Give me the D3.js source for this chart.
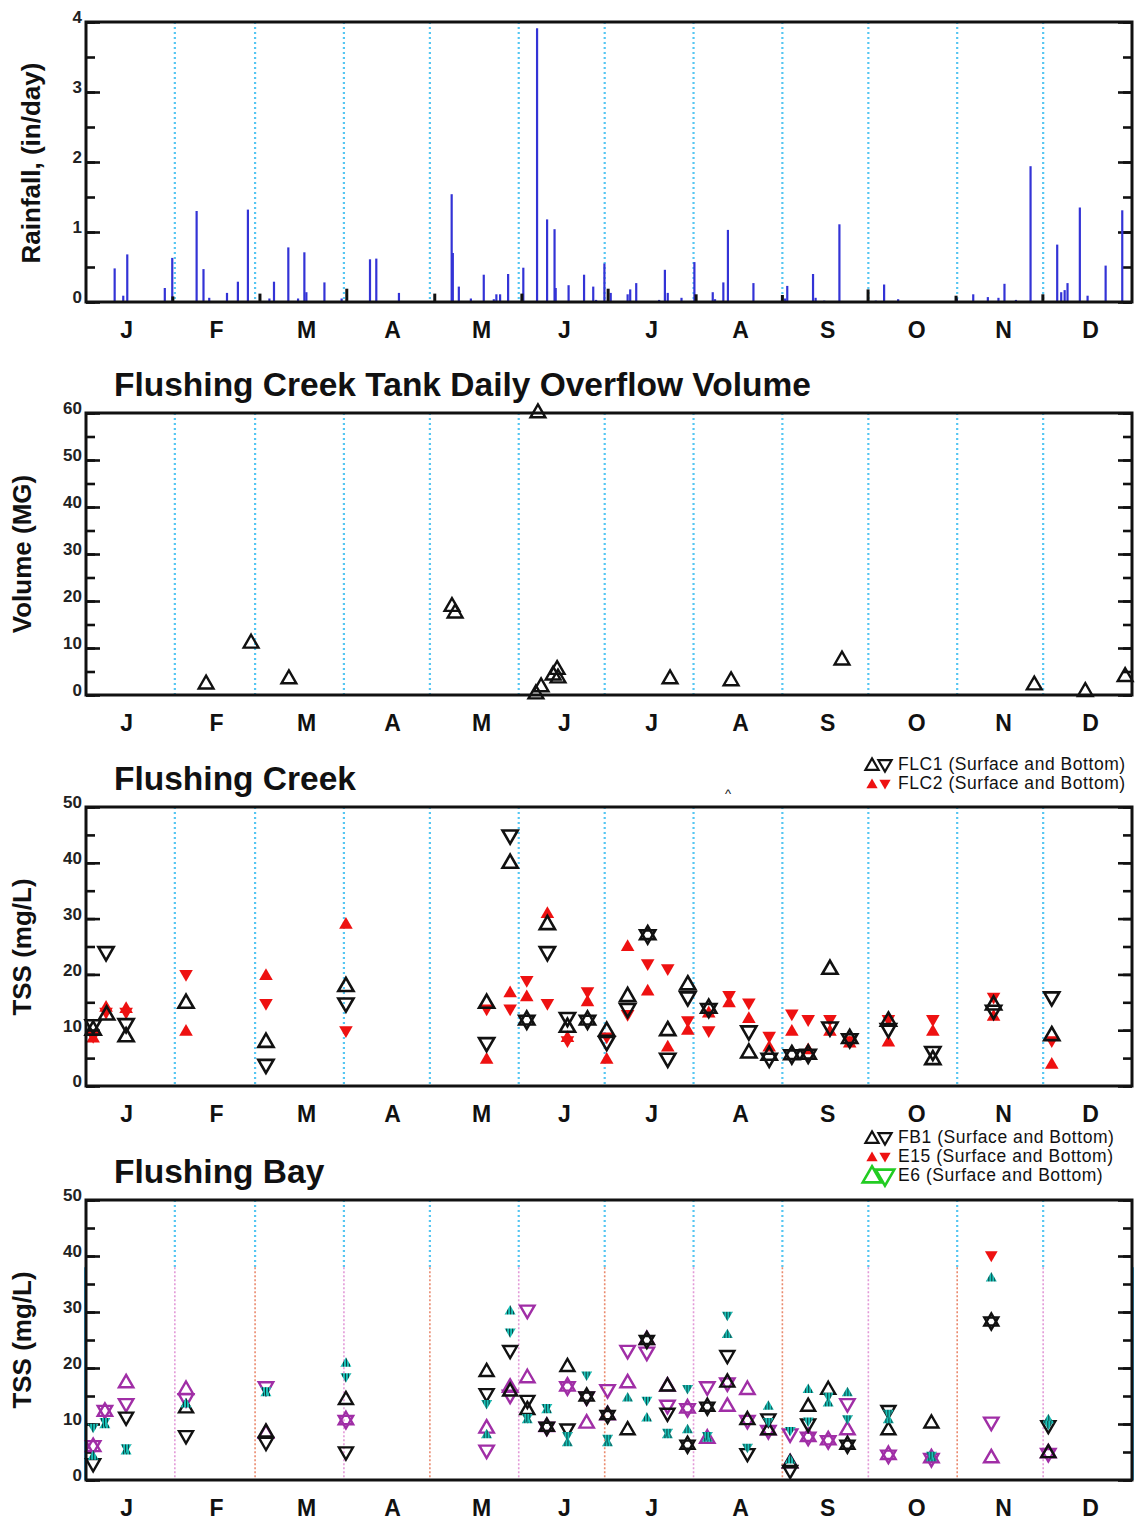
<!DOCTYPE html>
<html>
<head>
<meta charset="utf-8">
<script src="https://cdn.jsdelivr.net/npm/d3@7"></script>
<style>
  body { margin: 0; background: #fff; }
  svg { display: block; font-family: "Liberation Sans", Arial, Helvetica, sans-serif; }
</style>
</head>
<body>
<svg id="chart" width="1143" height="1524"></svg>
<script>
// ---- Calendar (day-of-year, 0..365) ----
const monthLabels = ["J","F","M","A","M","J","J","A","S","O","N","D"];
const monthStarts = [0, 31, 59, 90, 120, 151, 181, 212, 243, 273, 304, 334, 365];
const monthLabelDays = [14, 45.4, 76.8, 106.8, 137.9, 166.8, 197.2, 228.2, 258.6, 289.7, 320, 350.4];

// ---- Daily rainfall (in/day): [day, value] ----
const rainfall = [
  [10.0,0.48],[13.0,0.09],[14.4,0.68],[27.5,0.20],[30.1,0.63],[38.6,1.30],[41.0,0.47],[43.0,0.06],
  [49.2,0.13],[53.0,0.29],[56.5,1.32],[64.0,0.05],[65.6,0.29],[70.6,0.78],[74.0,0.05],[76.2,0.71],
  [76.9,0.14],[83.2,0.28],[89.2,0.05],[99.1,0.61],[101.3,0.62],[109.2,0.13],[127.6,1.54],[128.0,0.70],
  [130.1,0.22],[134.3,0.05],[138.8,0.39],[142.3,0.04],[143.2,0.11],[144.5,0.11],[147.3,0.40],[152.6,0.49],
  [157.4,3.91],[160.9,1.18],[163.5,1.04],[163.9,0.20],[168.4,0.24],[173.8,0.39],[177.0,0.22],[178.0,0.03],
  [180.9,0.55],[183.1,0.13],[189.0,0.11],[189.9,0.18],[192.0,0.27],[200.0,0.03],[202.0,0.46],[203.0,0.13],
  [207.8,0.06],[212.3,0.57],[218.7,0.14],[219.5,0.04],[222.4,0.28],[224.0,1.03],[232.9,0.27],[243.9,0.05],
  [244.7,0.23],[253.7,0.40],[254.6,0.06],[257.6,0.02],[262.9,1.11],[275.6,0.02],[278.5,0.25],[283.4,0.04],
  [303.9,0.05],[309.6,0.11],[314.7,0.07],[318.4,0.06],[320.5,0.26],[324.5,0.03],[329.6,1.94],[338.9,0.82],
  [340.3,0.14],[341.5,0.17],[342.5,0.27],[346.8,1.35],[349.5,0.09],[355.8,0.52],[361.6,1.31]
];
// second gauge, reported at month turnover
const rainfallGauge2 = [
  [30.3,0.08],[60.7,0.12],[91.0,0.19],[121.7,0.12],[152.1,0.12],[182.2,0.19],
  [212.9,0.11],[243.0,0.10],[272.9,0.18],[303.6,0.09],[333.9,0.11]
];

// ---- Tank daily overflow volume (MG): [day, value] ----
const overflow = [
  [41.9,2.3],[57.6,11.0],[70.8,3.4],[127.7,18.8],[128.8,17.4],[157.7,60.0],[157.0,0.2],[158.8,1.7],
  [163.0,4.2],[164.4,5.4],[164.7,3.6],[203.8,3.4],[225.1,3.0],[263.8,7.4],[330.9,2.1],[348.7,0.7],[362.6,3.9]
];

// ---- Flushing Creek TSS (mg/L): [day, value] ----
const flc1Surface = [
  [2.5,10.0],[7.2,12.7],[14,8.8],[34.9,14.8],[62.8,7.8],[90.7,17.8],[139.8,14.8],[148,39.9],[153.8,11.8],
  [161,28.9],[168,10.5],[175,11.8],[181.7,9.8],[189,16.0],[196,27.1],[203,9.9],[210,18.1],[217.3,13.9],
  [231.3,5.9],[238.4,5.5],[246.3,5.6],[252,5.7],[259.6,20.9],[266.5,8.5],[280,11.6],[295.5,4.7],[316.7,14.5],[337,9.0]
];
const flc1Bottom = [
  [2.5,11.0],[7.0,24.1],[14,11.2],[62.8,3.9],[90.7,14.9],[139.8,7.8],[148,45.0],[153.8,11.8],[161,24.1],
  [168,12.3],[175,11.8],[181.7,8.0],[189,13.9],[196,27.1],[203,5.0],[210,16.0],[217.3,13.9],[231.3,9.9],
  [238.4,5.0],[246.3,5.6],[252,5.7],[259.6,10.6],[266.5,8.5],[280,10.3],[295.5,6.2],[316.7,13.6],[337,16.0]
];
const flc2Surface = [
  [2.5,8.5],[7.0,14.0],[14,13.8],[34.9,9.7],[62.8,19.7],[90.7,28.9],[139.8,4.7],[148,16.6],[153.8,15.9],
  [161,30.8],[168,8.6],[175,15.0],[181.7,4.7],[189,24.9],[196,16.9],[203,6.9],[210,9.9],[217.3,13.0],
  [224.4,14.8],[231.3,12.0],[238.4,6.9],[246.3,9.7],[252,6.4],[259.6,9.7],[266.5,7.6],[280,7.8],[295.5,9.7],[316.7,12.4],[337,3.8]
];
const flc2Bottom = [
  [2.5,9.0],[7.0,13.3],[14,13.3],[34.9,20.1],[62.8,14.9],[90.7,10.0],[139.8,13.9],[148,13.9],[153.8,19.0],
  [161,14.9],[168,8.2],[175,17.0],[181.7,8.9],[189,12.9],[196,22.0],[203,21.1],[210,11.8],[217.3,10.0],
  [224.4,16.3],[231.3,15.0],[238.4,9.0],[246.3,13.0],[252,12.0],[259.6,12.0],[266.5,8.2],[280,12.0],[295.5,12.0],[316.7,16.0],[337,8.2]
];

// ---- Flushing Bay TSS (mg/L): [day, value] ----
const fb1Surface = [
  [34.9,12.8],[62.8,8.5],[90.7,14.3],[139.8,19.3],[148,15.8],[154,12.5],[160.8,9.5],[168,20.2],[174.7,14.9],
  [182,11.6],[189,8.9],[195.7,25.0],[202.9,16.7],[209.9,6.3],[216.8,13.1],[223.8,17.4],[230.8,10.7],[238.1,8.9],
  [245.7,3.0],[252,13.1],[259,16.1],[265.7,6.3],[280,8.9],[295,10.1],[315.9,28.3],[335.8,4.8]
];
const fb1Bottom = [
  [2.5,3.0],[14,11.3],[34.9,8.0],[62.8,6.8],[90.7,5.1],[139.8,15.5],[148,23.2],[154,14.3],[160.8,9.5],
  [168,9.2],[174.7,14.9],[182,11.6],[195.7,25.0],[202.9,12.0],[209.9,6.3],[216.8,13.1],[223.8,22.3],[230.8,4.8],
  [238.1,11.0],[245.7,1.8],[252,10.1],[265.7,6.3],[280,12.5],[315.9,28.3],[335.8,9.8]
];
const e15Surface = [
  [2.5,4.2],[6.6,9.8],[14,5.1],[34.9,13.5],[62.8,15.5],[90.7,20.8],[139.8,8.0],[148,30.1],[154,10.7],
  [160.8,12.5],[168,6.6],[182,6.6],[189,14.6],[195.7,11.0],[202.9,8.0],[209.9,8.9],[216.8,7.4],[223.8,25.9],
  [238.1,13.1],[245.7,3.5],[252,16.1],[259,13.7],[265.7,15.5],[280,10.7],[295,3.9],[315.9,36.0],[335.8,10.7]
];
const e15Bottom = [
  [2.5,9.5],[6.6,10.5],[14,5.8],[62.8,16.0],[90.7,18.5],[139.8,13.7],[148,26.5],[154,11.2],[160.8,13.0],
  [168,8.0],[174.7,18.8],[182,7.5],[195.7,14.3],[202.9,8.6],[209.9,16.4],[216.8,8.0],[223.8,29.5],[230.8,5.9],
  [238.1,10.5],[245.7,8.9],[252,10.6],[259,15.0],[265.7,11.0],[280,12.0],[295,4.5],[335.8,10.0]
];
const e15BottomNov = [[315.9,40.2]];
const e6Surface = [
  [2.5,5.9],[6.6,12.2],[14,17.3],[34.9,16.1],[62.8,8.3],[90.7,10.7],[139.8,9.2],[148,16.5],[154,18.2],
  [160.8,9.5],[168,16.7],[174.7,10.1],[182,11.6],[189,17.3],[195.7,25.0],[202.9,16.7],[209.9,12.8],[216.8,7.4],
  [223.8,13.1],[230.8,16.1],[238.1,8.9],[245.7,3.0],[252,7.7],[259,7.1],[265.7,8.9],[280,4.5],[295,3.9],[315.9,3.9],[335.8,4.8]
];
const e6Bottom = [
  [2.5,6.2],[6.6,12.5],[14,13.7],[34.9,14.6],[62.8,16.7],[90.7,10.7],[139.8,5.4],[148,15.2],[154,30.4],
  [160.8,9.5],[168,16.7],[174.7,14.9],[182,16.2],[189,23.2],[195.7,22.9],[202.9,13.4],[209.9,12.8],[216.8,16.7],
  [223.8,17.4],[230.8,10.7],[238.1,8.9],[245.7,8.3],[252,7.7],[259,7.1],[265.7,13.7],[280,4.5],[295,3.9],[315.9,10.4],[335.8,4.8]
];

// ---- Layout ----
const svg = d3.select("#chart");
const X0 = 86, X1 = 1132;
const x = d3.scaleLinear().domain([0, 365]).range([X0, X1]);
const dividerColor = "#55c6f2";
const FONT = "'Liberation Sans', Arial, sans-serif";

const defs = svg.append("defs");
const hatch = defs.append("pattern").attr("id", "hatch")
  .attr("patternUnits", "userSpaceOnUse").attr("width", 3).attr("height", 3);
hatch.append("rect").attr("width", 3).attr("height", 3).attr("fill", "#19c2b8");
hatch.append("rect").attr("width", 1).attr("height", 3).attr("fill", "#0a3a3a");

function panel(cfg) {
  const y = d3.scaleLinear().domain([0, cfg.max]).range([cfg.bottom, cfg.top]);
  const g = svg.append("g");

  // month dividers
  const inner = monthStarts.slice(1, -1);
  g.append("g").selectAll("line").data(inner).join("line")
    .attr("x1", d => x(d)).attr("x2", d => x(d))
    .attr("y1", cfg.top).attr("y2", cfg.split != null ? y(cfg.split) : cfg.bottom)
    .attr("stroke", dividerColor).attr("stroke-width", 2.2).attr("stroke-dasharray", "2,3");
  if (cfg.split != null) {
    g.append("g").selectAll("line").data(inner).join("line")
      .attr("x1", d => x(d)).attr("x2", d => x(d))
      .attr("y1", y(cfg.split)).attr("y2", cfg.bottom)
      .attr("stroke", (d, i) => i % 2 ? "#ea8a6e" : "#e39ad8").attr("stroke-width", 1.6)
      .attr("stroke-dasharray", "2,2");
    [X0 - 1, X1 + 1].forEach(px => {
      g.append("line").attr("x1", px).attr("x2", px).attr("y1", y(cfg.split)).attr("y2", cfg.bottom)
        .attr("stroke", "#3fb8f0").attr("stroke-width", 2);
    });
  }

  // inside ticks, left and right: minor and major
  const minorTicks = d3.range(0, cfg.max + 1e-9, cfg.minor);
  const majorTicks = d3.range(0, cfg.max + 1e-9, cfg.labelStep);
  [[minorTicks, 9], [majorTicks, 14]].forEach(([vals, len]) => {
    const left = g.append("g").attr("transform", `translate(${X0},0)`)
      .call(d3.axisRight(y).tickValues(vals).tickSize(len).tickFormat(""));
    const right = g.append("g").attr("transform", `translate(${X1},0)`)
      .call(d3.axisLeft(y).tickValues(vals).tickSize(len).tickFormat(""));
    [left, right].forEach(a => {
      a.select(".domain").remove();
      a.selectAll("line").attr("stroke", "#111").attr("stroke-width", 2.6);
    });
  });

  // value labels, sitting just above each tick
  const lab = g.append("g").attr("transform", `translate(${X0 - 4},0)`)
    .call(d3.axisLeft(y).tickValues(majorTicks).tickSize(0).tickPadding(0).tickFormat(d3.format("d")));
  lab.select(".domain").remove();
  lab.selectAll("text").attr("dy", "0.05em").attr("font-size", 17)
    .attr("font-weight", "bold").attr("fill", "#222").attr("font-family", FONT);

  // month names
  const mAxis = g.append("g").attr("transform", `translate(0,${cfg.bottom + 20})`)
    .call(d3.axisBottom(x).tickValues(monthLabelDays).tickSize(0).tickPadding(0).tickFormat((d, i) => monthLabels[i]));
  mAxis.select(".domain").remove();
  mAxis.selectAll("text").attr("font-size", 23).attr("font-weight", "bold").attr("fill", "#111")
    .attr("font-family", FONT);

  // axis title
  svg.append("text").attr("transform", `translate(${cfg.titleX},${cfg.yMid}) rotate(-90)`)
    .attr("text-anchor", "middle").attr("font-size", 26).attr("font-weight", "bold").attr("fill", "#111")
    .text(cfg.yTitle);

  if (cfg.title) {
    svg.append("text").attr("x", 114).attr("y", cfg.top - 17)
      .attr("font-size", 33.5).attr("font-weight", "bold").attr("fill", "#111").text(cfg.title);
  }

  const marks = svg.append("g");
  const frame = () => svg.append("rect").attr("x", X0).attr("y", cfg.top)
    .attr("width", X1 - X0).attr("height", cfg.bottom - cfg.top)
    .attr("fill", "none").attr("stroke", "#111").attr("stroke-width", 3);
  return { y, marks, frame };
}

function triangles(layer, data, y, o) {
  layer.append("g").selectAll("path").data(data).join("path")
    .attr("d", d3.symbol(d3.symbolTriangle, o.size))
    .attr("transform", d => `translate(${x(d[0])},${y(d[1])})${o.down ? " rotate(180)" : ""}`)
    .attr("fill", o.fill || "none")
    .attr("stroke", o.stroke || "none")
    .attr("stroke-width", o.sw || 0);
}

function legendRow(layer, yPos, text, up, down) {
  [[up, false, 872], [down, true, 885]].forEach(([o, isDown, px]) => {
    layer.append("path").attr("d", d3.symbol(d3.symbolTriangle, o.size))
      .attr("transform", `translate(${px},${yPos - 5 + (isDown ? -1 : 1)})${isDown ? " rotate(180)" : ""}`)
      .attr("fill", o.fill || "none").attr("stroke", o.stroke || "none").attr("stroke-width", o.sw || 0);
  });
  layer.append("text").attr("x", 898).attr("y", yPos).attr("font-size", 17.5)
    .attr("letter-spacing", 0.55).attr("fill", "#111").text(text);
}

// ---- Panel 1: rainfall ----
const p1 = panel({ top: 22, bottom: 302, max: 4, minor: 0.5, labelStep: 1,
  yTitle: "Rainfall, (in/day)", titleX: 40, yMid: 163 });
p1.marks.append("g").selectAll("line").data(rainfall).join("line")
  .attr("x1", d => x(d[0])).attr("x2", d => x(d[0]))
  .attr("y1", p1.y(0)).attr("y2", d => p1.y(d[1]))
  .attr("stroke", "#3333d6").attr("stroke-width", 2.2);
p1.marks.append("g").selectAll("line").data(rainfallGauge2).join("line")
  .attr("x1", d => x(d[0])).attr("x2", d => x(d[0]))
  .attr("y1", p1.y(0)).attr("y2", d => p1.y(d[1]))
  .attr("stroke", "#111").attr("stroke-width", 3);
p1.frame();

// ---- Panel 2: tank overflow ----
const p2 = panel({ top: 413, bottom: 695, max: 60, minor: 5, labelStep: 10,
  yTitle: "Volume (MG)", titleX: 31, yMid: 554, title: "Flushing Creek Tank Daily Overflow Volume" });
p2.frame();
triangles(p2.marks, overflow, p2.y, { size: 95, stroke: "#111", sw: 2.4 });

// ---- Panel 3: Flushing Creek TSS ----
const p3 = panel({ top: 807, bottom: 1086, max: 50, minor: 5, labelStep: 10,
  yTitle: "TSS (mg/L)", titleX: 31, yMid: 947, title: "Flushing Creek" });
triangles(p3.marks, flc2Surface, p3.y, { size: 80, fill: "#ee1111" });
triangles(p3.marks, flc2Bottom, p3.y, { size: 80, fill: "#ee1111", down: true });
triangles(p3.marks, flc1Surface, p3.y, { size: 100, stroke: "#111", sw: 2.6 });
triangles(p3.marks, flc1Bottom, p3.y, { size: 100, stroke: "#111", sw: 2.6, down: true });
p3.frame();
svg.append("text").attr("x", 728).attr("y", 798).attr("text-anchor", "middle")
  .attr("font-size", 13).attr("fill", "#111").text("^");

const leg3 = svg.append("g");
legendRow(leg3, 770, "FLC1 (Surface and Bottom)",
  { size: 75, stroke: "#111", sw: 2.2 }, { size: 75, stroke: "#111", sw: 2.2 });
legendRow(leg3, 789, "FLC2 (Surface and Bottom)",
  { size: 55, fill: "#ee1111" }, { size: 55, fill: "#ee1111" });

// ---- Panel 4: Flushing Bay TSS ----
const p4 = panel({ top: 1200, bottom: 1480, max: 50, minor: 5, labelStep: 10,
  yTitle: "TSS (mg/L)", titleX: 31, yMid: 1340, title: "Flushing Bay", split: 38 });
triangles(p4.marks, e6Surface, p4.y, { size: 90, stroke: "#a02ea6", sw: 2.4 });
triangles(p4.marks, e6Bottom, p4.y, { size: 90, stroke: "#a02ea6", sw: 2.4, down: true });
triangles(p4.marks, fb1Surface, p4.y, { size: 85, stroke: "#111", sw: 2.4 });
triangles(p4.marks, fb1Bottom, p4.y, { size: 85, stroke: "#111", sw: 2.4, down: true });
triangles(p4.marks, e15Surface, p4.y, { size: 52, fill: "url(#hatch)" });
triangles(p4.marks, e15Bottom, p4.y, { size: 52, fill: "url(#hatch)", down: true });
triangles(p4.marks, e15BottomNov, p4.y, { size: 70, fill: "#ee1111", down: true });
p4.frame();

const leg4 = svg.append("g");
legendRow(leg4, 1143, "FB1 (Surface and Bottom)",
  { size: 75, stroke: "#111", sw: 2.2 }, { size: 75, stroke: "#111", sw: 2.2 });
legendRow(leg4, 1162, "E15 (Surface and Bottom)",
  { size: 55, fill: "#ee1111" }, { size: 55, fill: "#ee1111" });
legendRow(leg4, 1181, "E6 (Surface and Bottom)",
  { size: 150, stroke: "#22cc22", sw: 2.6 }, { size: 150, stroke: "#22cc22", sw: 2.6 });
</script>
</body>
</html>
